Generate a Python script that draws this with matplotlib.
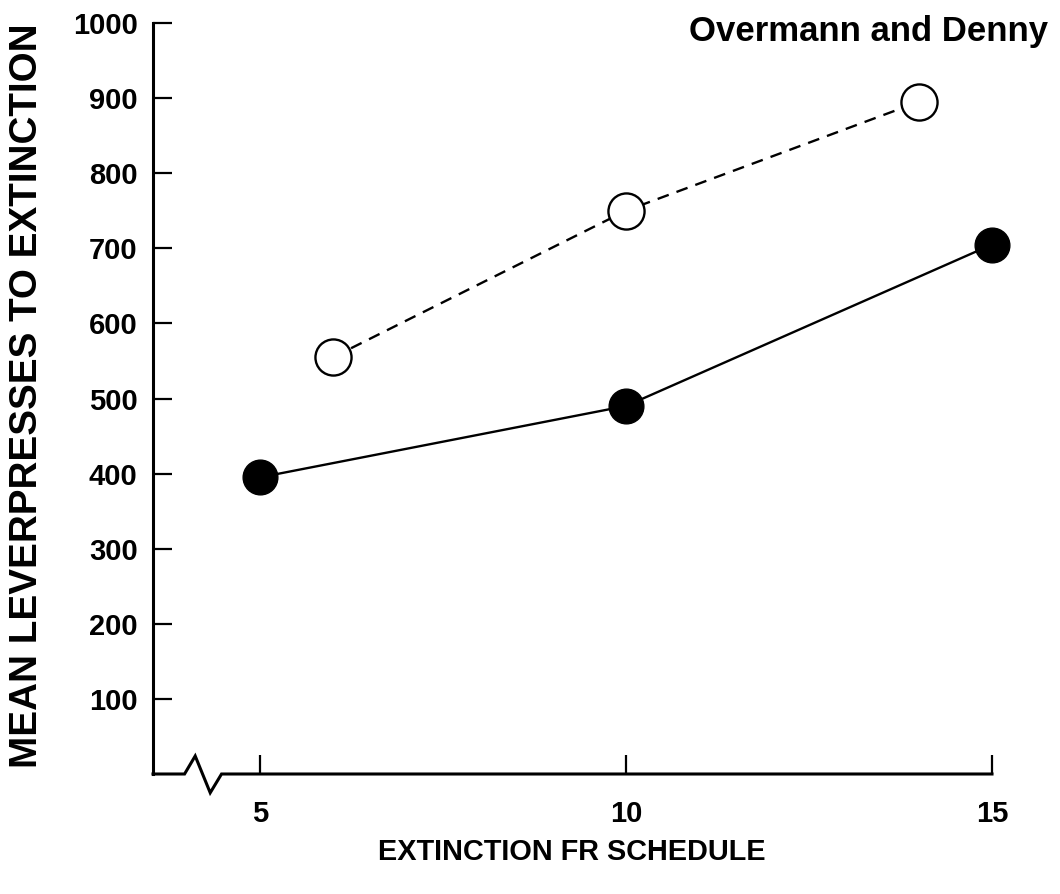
import matplotlib
matplotlib.use("Agg")
import matplotlib.pyplot as plt

# ---- data ----
fr_open = [6, 10, 14]
presses_open = [555, 750, 895]      # Overmann and Denny (dashed, open circles)
fr_filled = [5, 10, 15]
presses_filled = [395, 490, 705]    # solid, filled circles
xticks = [5, 10, 15]
yticks = [100, 200, 300, 400, 500, 600, 700, 800, 900, 1000]

plt.rcParams['font.family'] = ['Liberation Sans', 'DejaVu Sans']

W, H = 1060, 894
fig = plt.figure(figsize=(W / 100, H / 100), dpi=100)
ax = fig.add_axes([153 / W, 1 - 774 / H, (992 - 153) / W, (774 - 23) / H])

xmin, xmax = 3.54, 15
ax.set_xlim(xmin, xmax)
ax.set_ylim(0, 1000)

ax.plot(fr_open, presses_open, color='black', lw=1.7, ls=(0, (5, 3.5)),
        marker='o', ms=26, mfc='white', mec='black', mew=1.7,
        clip_on=False, zorder=3)
ax.plot(fr_filled, presses_filled, color='black', lw=1.7, ls='-',
        marker='o', ms=25, mfc='black', mec='black',
        clip_on=False, zorder=3)

# spines
for s in ['top', 'right', 'bottom']:
    ax.spines[s].set_visible(False)
ax.spines['left'].set_linewidth(2.2)

# bottom axis with a break symbol
xr = xmax - xmin
bx = [xmin, xmin + 0.0376 * xr, xmin + 0.0503 * xr, xmin + 0.0682 * xr, xmin + 0.0817 * xr, xmax]
by = [0, 0, 24, -25, 0, 0]
ax.plot(bx, by, color='black', lw=2.2, clip_on=False, zorder=2,
        solid_joinstyle='miter')

ax.set_xticks(xticks)
ax.set_yticks(yticks)
ax.set_xticklabels([str(v) for v in xticks])
ax.set_yticklabels([str(v) for v in yticks])
ax.tick_params(axis='both', direction='in', length=14, width=1.6,
               labelsize=21, colors='black')
ax.tick_params(axis='y', pad=11)
ax.tick_params(axis='x', pad=19)
for lab in ax.get_xticklabels() + ax.get_yticklabels():
    lab.set_fontweight('bold')

fig.text(27 / W, 1 - 396 / H, 'MEAN LEVERPRESSES TO EXTINCTION',
         rotation=90, ha='center', va='center', fontsize=27.8, fontweight='bold')
fig.text(572 / W, 1 - 852 / H, 'EXTINCTION FR SCHEDULE',
         ha='center', va='center', fontsize=20.8, fontweight='bold')
fig.text(1048 / W, 1 - 32 / H, 'Overmann and Denny',
         ha='right', va='center', fontsize=25, fontweight='bold')

fig.savefig('out.png', dpi=100, facecolor='white')
